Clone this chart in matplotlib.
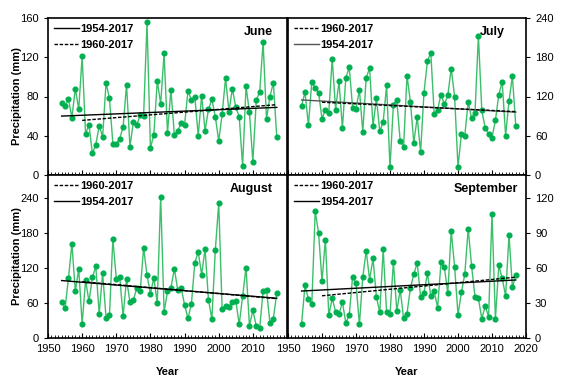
import numpy as np
import matplotlib.pyplot as plt
from matplotlib.ticker import MultipleLocator

plt.rcParams['font.family'] = ['Liberation Sans', 'DejaVu Sans']
plt.rcParams['font.size'] = 8

# Monthly precipitation (mm), 1954-2017
years = np.arange(1954, 2018)

june = [73, 70, 77, 58.5, 88, 67, 121, 42, 51, 22,
        31, 50, 39, 94, 78, 32, 31.5, 37, 49, 92,
        29, 54, 51, 61, 60, 155.5, 27.6, 41, 96, 72.5,
        124, 43, 87, 41, 45, 53, 51, 86, 76, 80,
        40, 81, 45, 67, 77, 59.6, 34.7, 62, 98.7, 64.7,
        88, 69, 59.6, 9.2, 90.5, 63.7, 13.6, 76, 85, 135.5,
        57, 80, 94, 39]

july = [105.6, 127, 76, 142, 133, 126, 86, 100, 95.5, 178,
        100, 143.5, 71.5, 148, 165, 103, 101, 130, 65.6, 149,
        163, 74.7, 117, 66.7, 81.6, 137, 11.7, 107.7, 114.7, 51.7,
        43.2, 152, 112, 49, 88.5, 34.7, 126, 174, 187, 93,
        100, 123, 108, 121.6, 162.7, 120, 12.3, 62.4, 60.3, 112,
        86.4, 95, 213, 98.7, 72, 63, 57, 83.7, 122.7, 142.4,
        60.3, 113, 151, 74.7]

august = [62.6, 51, 103, 162, 80, 119, 24, 99, 63, 104,
          123, 41.5, 111.5, 35, 39, 170, 102, 105, 38, 100.6,
          62, 65, 86, 80, 155, 108, 76, 103.5, 60, 243,
          45, 80, 86, 119, 82.5, 86, 57, 33.5, 58.6, 129,
          148, 108.6, 153.5, 65.4, 32.4, 150.7, 231.5, 49, 54.6, 53.5,
          62, 63.7, 23.3, 71.7, 121, 21, 47.8, 20.5, 17, 80.8,
          82.5, 25.6, 33, 76.8]

september = [12.3, 45.4, 33.4, 29, 109, 90, 49, 84.6, 19.4, 34,
             22.6, 20.3, 31, 12.9, 19.4, 52.6, 47, 11.7, 52.6, 75,
             50, 68.3, 35.4, 22, 76.3, 22, 20.3, 65.4, 23.1, 41.4,
             16.9, 21, 42.9, 54.6, 64.6, 35.4, 38.9, 55.4, 36.3, 40.3,
             26, 64.9, 60.6, 38.3, 92, 61.4, 20, 39.1, 54.9, 94,
             61.7, 35.4, 34, 16.6, 27.4, 18.3, 106.9, 16.3, 62.3, 51.4,
             36, 88.6, 43.4, 54.3]

months = ['June', 'July', 'August', 'September']
periods = [(1954, '1954-2017'), (1960, '1960-2017')]

green_line = '#3cbf6a'
green_dot = '#00b050'

fig = plt.figure(figsize=(5.65, 3.89), dpi=100)
W, H = 565, 389


def box(l, t, r, b):
    return [l / W, 1 - b / H, (r - l) / W, (b - t) / H]


# axes: (values, box, ymax, ystep, ylabel-limit, right side?, bottom row?, title x)
panels = [
    (june, box(48, 18, 287, 175), 160, 40, 160, False, False, 0.94),
    (july, box(288, 18, 526, 175), 240, 60, 240, True, False, 0.91),
    (august, box(48, 175, 287, 338), 280, 60, 240, False, True, 0.94),
    (september, box(288, 175, 526, 338), 140, 30, 120, True, True, 0.965),
]

for i, (vals, pos, ymax, ystep, ytop, right, bottom, tx) in enumerate(panels):
    ax = fig.add_axes(pos)
    vals = np.array(vals)
    ax.plot(years, vals, color=green_line, lw=1.0, zorder=2)
    ax.plot(years, vals, 'o', color=green_dot, ms=3.4, zorder=3)

    # linear trends for the two periods
    lines = {}
    for start, lab in periods:
        m = years >= start
        p = np.polyfit(years[m], vals[m], 1)
        ls = '-' if start == 1954 else (0, (2.5, 1.2))
        col = 'black'
        if start == 1954 and i == 1:
            col = '#555555'
        ln, = ax.plot(years[m], np.polyval(p, years[m]), color=col,
                      lw=1.0, ls=ls, label=lab, zorder=4)
        lines[start] = ln

    order = [lines[1954], lines[1960]] if i == 0 else [lines[1960], lines[1954]]
    ax.legend(handles=order, loc='upper left', frameon=False,
              prop={'weight': 'bold', 'size': 8}, handlelength=2.3,
              handletextpad=0.1, labelspacing=0.55, borderaxespad=0.2,
              borderpad=0.3)

    ax.text(tx, 0.95, months[i], transform=ax.transAxes, ha='right',
            va='top', fontsize=9, fontweight='bold')

    ax.set_xlim(1950, 2020)
    ax.set_ylim(0, ymax)
    ax.set_yticks(np.arange(0, ytop + 1, ystep))
    last = 2020 if right else 2010
    ax.set_xticks(np.arange(1950, last + 1, 10))
    ax.xaxis.set_minor_locator(MultipleLocator(1))
    ax.tick_params(axis='x', which='major', direction='in', length=3.5,
                   width=0.8, labelsize=8, labelbottom=bottom, pad=4)
    ax.tick_params(axis='x', which='minor', direction='in', length=2,
                   width=0.6)
    ax.tick_params(axis='y', direction='out', length=3, width=0.8,
                   labelsize=8)
    if right:
        ax.yaxis.tick_right()
    else:
        ax.set_ylabel('Precipitation (mm)', fontsize=8, fontweight='bold')
        ax.yaxis.set_label_coords(-0.11, 0.5)
    if bottom:
        ax.set_xlabel('Year', fontsize=8, fontweight='bold')
        ax.xaxis.set_label_coords(0.5, -0.18)
    for s in ax.spines.values():
        s.set_linewidth(1.2)

fig.savefig('out.png', dpi=100)
